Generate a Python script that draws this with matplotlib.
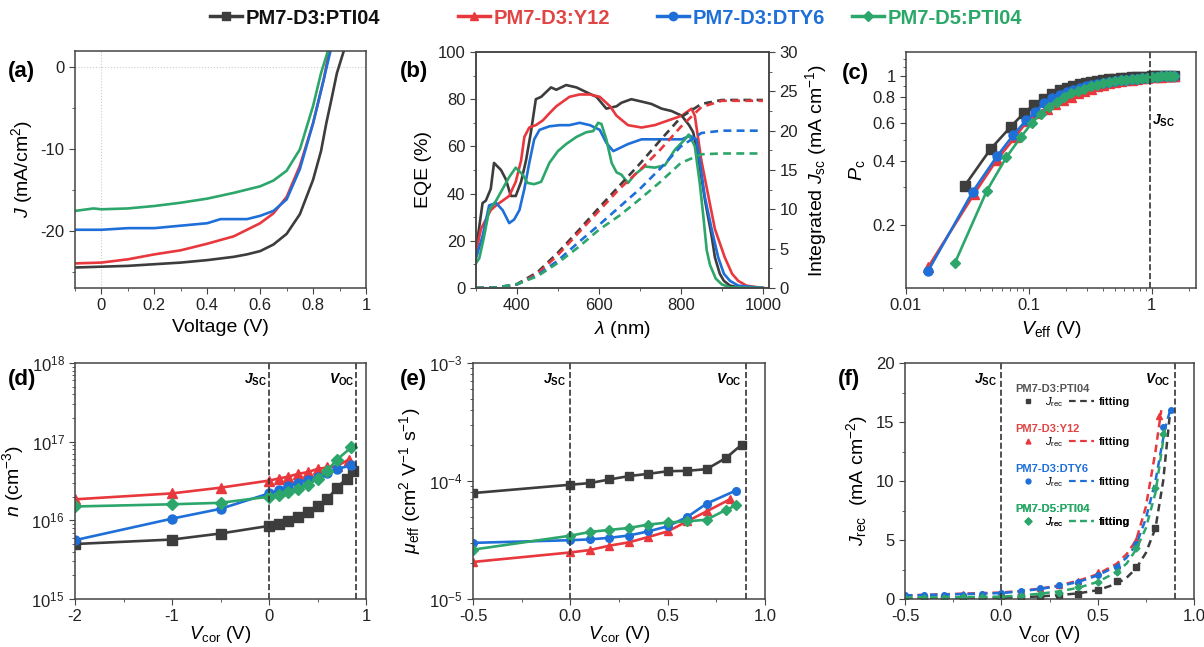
import numpy as np
import matplotlib
matplotlib.use("Agg")
import matplotlib.pyplot as plt
from matplotlib.lines import Line2D
from matplotlib.ticker import MultipleLocator, FixedLocator, NullFormatter, LogLocator, FixedFormatter

plt.rcParams.update({
    "font.family": ["Liberation Sans", "DejaVu Sans"],
    "mathtext.fontset": "custom",
    "mathtext.rm": "Liberation Sans",
    "mathtext.it": "Liberation Sans:italic",
    "mathtext.bf": "Liberation Sans:bold",
    "mathtext.bfit": "Liberation Sans:italic:bold",
    "axes.unicode_minus": False,
    "font.size": 12,
    "axes.linewidth": 1.1,
    "axes.edgecolor": "#444444",
    "xtick.direction": "out",
    "ytick.direction": "out",
    "xtick.major.size": 4,
    "ytick.major.size": 4,
    "xtick.minor.size": 2.5,
    "ytick.minor.size": 2.5,
    "xtick.color": "#444444",
    "ytick.color": "#444444",
    "xtick.labelcolor": "#222222",
    "ytick.labelcolor": "#222222",
})

names = ["PM7-D3:PTI04", "PM7-D3:Y12", "PM7-D3:DTY6", "PM7-D5:PTI04"]
colors = ["#3d3d3d", "#e8383d", "#1f6fd8", "#2ca66a"]
text_colors = ["#111111", "#e04545", "#1f6fd8", "#2aa868"]
markers = ["s", "^", "o", "D"]

# (a) J-V curves
jv_v = [
    [-0.1, 0.0, 0.1, 0.2, 0.3, 0.4, 0.5, 0.55, 0.6, 0.65, 0.7, 0.75, 0.8, 0.83, 0.85, 0.87, 0.89, 0.915],
    [-0.1, 0.0, 0.1, 0.2, 0.3, 0.4, 0.5, 0.6, 0.65, 0.7, 0.75, 0.8, 0.84, 0.86],
    [-0.1, 0.0, 0.1, 0.2, 0.3, 0.4, 0.45, 0.5, 0.55, 0.6, 0.65, 0.7, 0.75, 0.8, 0.84, 0.865],
    [-0.1, -0.03, 0.0, 0.1, 0.2, 0.3, 0.4, 0.5, 0.6, 0.65, 0.7, 0.75, 0.8, 0.83, 0.855],
]
jv_j = [
    [-24.4, -24.3, -24.2, -24.0, -23.8, -23.5, -23.1, -22.8, -22.4, -21.6, -20.3, -17.9, -13.7, -10.2, -6.8, -3.8, -0.7, 1.9],
    [-23.9, -23.8, -23.4, -22.8, -22.3, -21.5, -20.6, -19.0, -17.8, -15.8, -12.0, -6.8, -1.5, 1.9],
    [-19.8, -19.8, -19.6, -19.6, -19.3, -19.0, -18.5, -18.5, -18.5, -18.1, -17.5, -16.1, -12.4, -6.8, -1.5, 1.9],
    [-17.5, -17.2, -17.3, -17.2, -16.9, -16.5, -16.0, -15.3, -14.5, -13.8, -12.6, -10.0, -4.7, -0.7, 1.9],
]

# (b) EQE spectra
eqe_nm = [
    [300, 308, 316, 324, 336, 344, 361, 373, 385, 397, 410, 422, 434, 446, 459, 471, 483, 496, 520, 545, 569, 594,
     618, 643, 655, 679, 704, 728, 753, 777, 802, 820, 830, 842, 859, 875, 883, 895, 905, 920, 940, 1000],
    [300, 312, 324, 336, 349, 365, 381, 397, 410, 418, 430, 446, 463, 479, 496, 512, 528, 553, 578, 602, 627, 643,
     671, 704, 736, 769, 802, 826, 834, 850, 867, 883, 907, 925, 940, 960, 1000],
    [300, 316, 332, 349, 365, 381, 393, 406, 418, 430, 442, 455, 479, 504, 528, 553, 578, 602, 618, 635, 671, 704,
     736, 769, 802, 822, 838, 846, 858, 875, 891, 905, 920, 940, 1000],
    [300, 308, 320, 332, 349, 365, 381, 397, 414, 426, 442, 459, 479, 500, 520, 545, 569, 586, 598, 606, 618, 631,
     643, 655, 671, 687, 712, 736, 761, 785, 810, 819, 830, 834, 846, 855, 863, 871, 885, 900, 920, 1000],
]
eqe_val = [
    [16, 26, 36, 37, 42, 53, 50, 46, 39, 39, 45, 54, 66, 80, 81, 83, 85, 84, 86, 85, 83, 81,
     76, 77, 78.5, 80, 79, 78, 76, 75, 73, 69, 66, 56, 37, 22, 13, 6, 3, 1, 0.3, 0],
    [15, 25, 29, 33, 35, 37, 39, 45, 54, 64, 68, 69, 71, 74, 77, 79, 81, 82, 82, 81, 77, 73,
     69, 68, 69, 71, 73, 76, 73, 54, 39, 25, 13, 6, 3, 1, 0],
    [12.6, 22, 35, 36, 33, 27.5, 29, 33, 42, 53, 63, 67, 68.5, 69, 69, 70, 69, 67, 61.5, 58, 61, 63,
     63, 63, 63, 64.5, 63, 54, 39, 25, 13, 6, 3, 1, 0],
    [10.5, 12.6, 22, 33, 37, 42, 47, 51, 48, 44.5, 44, 45, 53, 58, 61, 64, 66, 66.5, 70, 69.5, 63, 53,
     49, 48, 44.5, 48, 51.5, 51, 52, 58.5, 63, 65, 61.5, 60, 44.5, 30, 16, 9.8, 4, 1.5, 0.3, 0],
]

# (b) integrated Jsc
jint_nm = [300, 350, 400, 450, 500, 550, 600, 650, 700, 750, 800, 850, 900, 950, 1000]
jint_val = [
    [0, 0.05, 0.5, 2.0, 4.5, 7.3, 10.2, 13.0, 15.8, 18.8, 21.7, 23.4, 23.9, 23.9, 23.9],
    [0, 0.05, 0.45, 1.8, 4.2, 7.0, 9.8, 12.6, 15.0, 17.6, 20.5, 23.0, 23.8, 23.8, 23.8],
    [0, 0.05, 0.45, 1.6, 3.5, 5.8, 8.0, 10.3, 12.6, 15.2, 18.0, 19.7, 20.0, 20.0, 20.0],
    [0, 0.05, 0.5, 1.5, 3.2, 5.2, 7.4, 9.2, 11.3, 13.5, 15.9, 17.0, 17.1, 17.1, 17.1],
]

# (c) Pc vs Veff
pc_v = [
    [0.030, 0.049, 0.071, 0.091, 0.111, 0.132, 0.155, 0.181, 0.205, 0.23, 0.26, 0.29, 0.32, 0.36, 0.40, 0.45,
     0.50, 0.56, 0.62, 0.69, 0.76, 0.84, 0.92, 1.01, 1.10, 1.20, 1.31, 1.42, 1.52],
    [0.0152, 0.0359, 0.055, 0.0776, 0.0966, 0.117, 0.14, 0.165, 0.19, 0.22, 0.25, 0.28, 0.32, 0.36, 0.40, 0.45,
     0.50, 0.56, 0.62, 0.69, 0.76, 0.84, 0.92, 1.01, 1.10, 1.20, 1.31, 1.42, 1.52],
    [0.0152, 0.035, 0.055, 0.075, 0.095, 0.113, 0.134, 0.155, 0.18, 0.205, 0.23, 0.26, 0.29, 0.32, 0.36, 0.40,
     0.45, 0.50, 0.56, 0.62, 0.69, 0.76, 0.84, 0.92, 1.01, 1.10, 1.20, 1.31, 1.42, 1.52],
    [0.0251, 0.0456, 0.0655, 0.0863, 0.106, 0.125, 0.146, 0.17, 0.195, 0.22, 0.25, 0.28, 0.32, 0.36, 0.40, 0.45,
     0.50, 0.56, 0.62, 0.69, 0.76, 0.84, 0.92, 1.01, 1.10, 1.20, 1.31, 1.42, 1.52],
]
pc_p = [
    [0.305, 0.456, 0.577, 0.671, 0.734, 0.782, 0.826, 0.865, 0.885, 0.90, 0.915, 0.93, 0.94, 0.95, 0.96, 0.97,
     0.975, 0.98, 0.985, 0.99, 0.99, 0.995, 0.995, 1.0, 1.0, 1.0, 1.0, 1.0, 1.0],
    [0.127, 0.28, 0.405, 0.518, 0.614, 0.672, 0.705, 0.74, 0.77, 0.80, 0.83, 0.855, 0.875, 0.895, 0.91, 0.925,
     0.935, 0.945, 0.955, 0.965, 0.97, 0.98, 0.985, 0.99, 0.99, 0.995, 1.0, 1.0, 1.0],
    [0.122, 0.287, 0.42, 0.53, 0.62, 0.68, 0.75, 0.79, 0.82, 0.845, 0.865, 0.88, 0.895, 0.91, 0.92, 0.93,
     0.94, 0.95, 0.96, 0.965, 0.97, 0.975, 0.98, 0.985, 0.99, 0.995, 1.0, 1.0, 1.0, 1.0],
    [0.133, 0.29, 0.415, 0.518, 0.603, 0.665, 0.715, 0.76, 0.795, 0.83, 0.855, 0.875, 0.895, 0.91, 0.925, 0.94,
     0.95, 0.96, 0.965, 0.97, 0.975, 0.98, 0.985, 0.99, 0.995, 1.0, 1.0, 1.0, 1.0],
]

# (d) carrier density vs Vcor
n_v = [
    [-2, -1, -0.5, 0, 0.1, 0.2, 0.3, 0.4, 0.5, 0.6, 0.7, 0.8, 0.87],
    [-2, -1, -0.5, 0, 0.1, 0.2, 0.3, 0.4, 0.5, 0.6, 0.7, 0.82],
    [-2, -1, -0.5, 0, 0.1, 0.2, 0.3, 0.4, 0.5, 0.6, 0.7, 0.85],
    [-2, -1, -0.5, 0, 0.1, 0.2, 0.3, 0.4, 0.5, 0.6, 0.7, 0.85],
]
n_val = [
    [5.0e15, 5.7e15, 6.8e15, 8.5e15, 9.1e15, 9.8e15, 1.1e16, 1.26e16, 1.5e16, 1.85e16, 2.6e16, 3.4e16, 4.2e16],
    [1.85e16, 2.2e16, 2.6e16, 3.2e16, 3.4e16, 3.6e16, 3.9e16, 4.1e16, 4.5e16, 4.7e16, 4.9e16, 5.9e16],
    [5.6e15, 1.05e16, 1.4e16, 2.2e16, 2.4e16, 2.75e16, 3.0e16, 3.3e16, 3.6e16, 4.0e16, 4.5e16, 5.0e16],
    [1.5e16, 1.6e16, 1.67e16, 2.0e16, 2.1e16, 2.3e16, 2.5e16, 2.8e16, 3.4e16, 4.3e16, 5.9e16, 8.5e16],
]

# (e) effective mobility vs Vcor
mu_v = [
    [-0.5, 0, 0.1, 0.2, 0.3, 0.4, 0.5, 0.6, 0.7, 0.8, 0.88],
    [-0.5, 0, 0.1, 0.2, 0.3, 0.4, 0.5, 0.6, 0.7, 0.82],
    [-0.5, 0, 0.1, 0.2, 0.3, 0.4, 0.5, 0.6, 0.7, 0.85],
    [-0.5, 0, 0.1, 0.2, 0.3, 0.4, 0.5, 0.6, 0.7, 0.8, 0.85],
]
mu_val = [
    [7.9e-5, 9.3e-5, 9.6e-5, 1.03e-4, 1.1e-4, 1.15e-4, 1.21e-4, 1.22e-4, 1.26e-4, 1.57e-4, 2.03e-4],
    [2.06e-5, 2.48e-5, 2.6e-5, 2.83e-5, 3.02e-5, 3.35e-5, 3.74e-5, 4.55e-5, 5.53e-5, 7.0e-5],
    [2.99e-5, 3.15e-5, 3.2e-5, 3.3e-5, 3.45e-5, 3.74e-5, 4.13e-5, 4.95e-5, 6.43e-5, 8.3e-5],
    [2.62e-5, 3.44e-5, 3.7e-5, 3.85e-5, 4.0e-5, 4.27e-5, 4.45e-5, 4.55e-5, 4.7e-5, 5.7e-5, 6.2e-5],
]

# (f) recombination current, measured points and fits
rec_v = [
    [-0.5, -0.4, -0.3, -0.2, -0.1, 0, 0.1, 0.2, 0.3, 0.4, 0.5, 0.6, 0.7, 0.8],
    [-0.5, -0.4, -0.3, -0.2, -0.1, 0, 0.1, 0.2, 0.3, 0.4, 0.5, 0.6, 0.7, 0.82],
    [-0.5, -0.4, -0.3, -0.2, -0.1, 0, 0.1, 0.2, 0.3, 0.4, 0.5, 0.6, 0.7, 0.84, 0.88],
    [-0.5, -0.4, -0.3, -0.2, -0.1, 0, 0.1, 0.2, 0.3, 0.4, 0.5, 0.6, 0.7, 0.8, 0.84],
]
rec_j = [
    [0.05, 0.06, 0.07, 0.08, 0.1, 0.12, 0.15, 0.2, 0.3, 0.4, 0.76, 1.5, 2.7, 6.0],
    [0.3, 0.32, 0.35, 0.4, 0.45, 0.55, 0.65, 0.9, 1.15, 1.5, 2.3, 2.9, 5.0, 15.5],
    [0.3, 0.32, 0.35, 0.38, 0.42, 0.5, 0.7, 0.9, 1.15, 1.45, 2.05, 2.75, 4.7, 14.6, 16.0],
    [0.1, 0.11, 0.12, 0.13, 0.14, 0.15, 0.25, 0.4, 0.55, 1.0, 1.45, 2.3, 4.3, 9.4, 14.0],
]
fit_v = [
    [-0.5, 0, 0.1, 0.2, 0.3, 0.4, 0.5, 0.6, 0.65, 0.7, 0.75, 0.8, 0.84, 0.875],
    [-0.5, 0, 0.1, 0.2, 0.3, 0.4, 0.5, 0.6, 0.65, 0.7, 0.75, 0.8, 0.83],
    [-0.5, 0, 0.1, 0.2, 0.3, 0.4, 0.5, 0.6, 0.65, 0.7, 0.75, 0.8, 0.85, 0.88],
    [-0.5, 0, 0.1, 0.2, 0.3, 0.4, 0.5, 0.6, 0.65, 0.7, 0.75, 0.8, 0.85],
]
fit_j = [
    [0.05, 0.1, 0.15, 0.22, 0.33, 0.48, 0.75, 1.3, 1.8, 2.6, 3.9, 6.0, 10.0, 15.7],
    [0.3, 0.55, 0.68, 0.88, 1.15, 1.55, 2.1, 3.0, 3.8, 5.0, 7.8, 12.5, 16.0],
    [0.3, 0.5, 0.65, 0.85, 1.1, 1.45, 2.0, 2.8, 3.5, 4.6, 6.8, 10.0, 14.5, 16.2],
    [0.12, 0.2, 0.3, 0.45, 0.65, 0.95, 1.45, 2.3, 3.0, 4.2, 6.0, 9.0, 14.5],
]

W, H = 1204, 647
fig = plt.figure(figsize=(W / 100, H / 100), dpi=100)


def rect(l, t, r, b):
    return [l / W, 1 - b / H, (r - l) / W, (b - t) / H]


ax_a = fig.add_axes(rect(75, 51, 366, 288))
ax_b = fig.add_axes(rect(476, 52, 769, 288))
ax_c = fig.add_axes(rect(906, 52, 1196, 288))
ax_d = fig.add_axes(rect(75, 363, 366, 599))
ax_e = fig.add_axes(rect(473, 363, 765, 599))
ax_f = fig.add_axes(rect(905, 363, 1194, 599))

lab_fs = 14
tick_fs = 12
lw = 1.9

# (a)
ax_a.axhline(0, color="#cccccc", ls=":", lw=0.8)
ax_a.axvline(0, color="#cccccc", ls=":", lw=0.8)
for i in range(4):
    ax_a.plot(jv_v[i], jv_j[i], color=colors[i], lw=lw)
ax_a.set_xlim(-0.1, 1.0)
ax_a.set_ylim(-26.9, 2.0)
ax_a.set_xticks([0, 0.2, 0.4, 0.6, 0.8, 1.0])
ax_a.set_xticklabels(["0", "0.2", "0.4", "0.6", "0.8", "1"])
ax_a.xaxis.set_minor_locator(MultipleLocator(0.1))
ax_a.set_yticks([-20, -10, 0])
ax_a.yaxis.set_minor_locator(MultipleLocator(5))
ax_a.set_xlabel("Voltage (V)", fontsize=lab_fs)
ax_a.set_ylabel("$J$ (mA/cm$^2$)", fontsize=lab_fs)

# (b)
for i in range(4):
    ax_b.plot(eqe_nm[i], eqe_val[i], color=colors[i], lw=lw)
ax_b.set_xlim(300, 1015)
ax_b.set_ylim(0, 100)
ax_b.set_xticks([400, 600, 800, 1000])
ax_b.xaxis.set_minor_locator(MultipleLocator(100))
ax_b.set_yticks([0, 20, 40, 60, 80, 100])
ax_b.yaxis.set_minor_locator(MultipleLocator(10))
ax_b.set_xlabel(r"$\lambda$ (nm)", fontsize=lab_fs)
ax_b.set_ylabel("EQE (%)", fontsize=lab_fs)
ax_b2 = ax_b.twinx()
for i in range(4):
    ax_b2.plot(jint_nm, jint_val[i], color=colors[i], lw=lw, ls=(0, (3, 2)))
ax_b2.set_ylim(0, 30)
ax_b2.set_yticks([0, 5, 10, 15, 20, 25, 30])
ax_b2.yaxis.set_minor_locator(MultipleLocator(2.5))
ax_b2.set_ylabel(r"Integrated $J_{\rm sc}$ (mA cm$^{-1}$)", fontsize=lab_fs)

# (c)
for i in range(4):
    ax_c.plot(pc_v[i], pc_p[i], color=colors[i], lw=lw, marker=markers[i],
              ms=6.5 if markers[i] != "D" else 5.5, mec=colors[i])
ax_c.set_xscale("log")
ax_c.set_yscale("log")
ax_c.set_xlim(0.01, 2.3)
ax_c.set_ylim(0.101, 1.3)
ax_c.set_xticks([0.01, 0.1, 1])
ax_c.set_xticklabels(["0.01", "0.1", "1"])
ax_c.xaxis.set_minor_locator(LogLocator(subs=np.arange(2, 10)))
ax_c.xaxis.set_minor_formatter(NullFormatter())
ax_c.yaxis.set_major_locator(FixedLocator([0.2, 0.4, 0.6, 0.8, 1.0]))
ax_c.yaxis.set_major_formatter(FixedFormatter(["0.2", "0.4", "0.6", "0.8", "1"]))
ax_c.yaxis.set_minor_locator(FixedLocator([0.3, 0.5, 0.7, 0.9, 1.1, 1.2]))
ax_c.yaxis.set_minor_formatter(NullFormatter())
ax_c.axvline(0.97, color="#333333", ls="--", lw=1.2)
ax_c.text(1.0, 0.62, r"$\mathbfit{J}_{\mathbf{SC}}$", fontsize=10, ha="left", va="center")
ax_c.set_xlabel(r"$V_{\rm eff}$ (V)", fontsize=lab_fs)
ax_c.set_ylabel(r"$P_{\rm c}$", fontsize=lab_fs)

# (d)
for i in range(4):
    ax_d.plot(n_v[i], n_val[i], color=colors[i], lw=lw, marker=markers[i],
              ms=6.5 if markers[i] != "D" else 6, mec=colors[i])
ax_d.set_yscale("log")
ax_d.set_xlim(-2, 1)
ax_d.set_ylim(1e15, 1e18)
ax_d.set_xticks([-2, -1, 0, 1])
ax_d.xaxis.set_minor_locator(MultipleLocator(0.5))
ax_d.set_ylabel(r"$n$ (cm$^{-3}$)", fontsize=lab_fs)

# (e)
for i in range(4):
    ax_e.plot(mu_v[i], mu_val[i], color=colors[i], lw=lw, marker=markers[i],
              ms=5.5 if markers[i] != "D" else 5, mec=colors[i])
ax_e.set_yscale("log")
ax_e.set_xlim(-0.5, 1.0)
ax_e.set_ylim(1e-5, 1e-3)
ax_e.set_xticks([-0.5, 0.0, 0.5, 1.0])
ax_e.set_xticklabels(["-0.5", "0.0", "0.5", "1.0"])
ax_e.xaxis.set_minor_locator(MultipleLocator(0.25))
ax_e.set_ylabel(r"$\mu_{\rm eff}$ (cm$^2$ V$^{-1}$ s$^{-1}$)", fontsize=lab_fs)

# (f)
for i in range(4):
    ax_f.plot(rec_v[i], rec_j[i], ls="none", marker=markers[i], color=colors[i],
              ms=4 if markers[i] != "D" else 3.5)
    ax_f.plot(fit_v[i], fit_j[i], color=colors[i], lw=1.8, ls=(0, (3, 2)))
ax_f.set_xlim(-0.5, 1.0)
ax_f.set_ylim(0, 20)
ax_f.set_xticks([-0.5, 0.0, 0.5, 1.0])
ax_f.set_xticklabels(["-0.5", "0.0", "0.5", "1.0"])
ax_f.xaxis.set_minor_locator(MultipleLocator(0.25))
ax_f.set_yticks([0, 5, 10, 15, 20])
ax_f.yaxis.set_minor_locator(MultipleLocator(2.5))
ax_f.set_ylabel(r"$J_{\rm rec}$  (mA cm$^{-2}$)", fontsize=lab_fs)

# bottom-row x labels sit right at the figure edge
ax_d.set_xlabel(r"$V_{\rm cor}$ (V)", fontsize=13.5, labelpad=0)
ax_e.set_xlabel(r"$V_{\rm cor}$ (V)", fontsize=13.5, labelpad=0)
ax_f.set_xlabel(r"V$_{\rm cor}$ (V)", fontsize=13.5, labelpad=0)

title_colors = ["#555555", "#e04545", "#1f6fd8", "#2aa868"]
for i in range(4):
    h1 = Line2D([], [], ls="none", marker=markers[i], color=colors[i], ms=3.5)
    h2 = Line2D([], [], color=colors[i], lw=1.6, ls=(0, (3, 2)))
    leg = ax_f.legend([h1, h2], [r"$J_{\rm rec}$", "fitting"], ncol=2, loc="upper left",
                      bbox_to_anchor=(0.36, 0.94 - i * 0.17), frameon=False, fontsize=8,
                      title=names[i], title_fontsize=8, handlelength=2.2, handletextpad=0.4,
                      columnspacing=0.6, borderpad=0.1, labelspacing=0.1)
    leg.get_title().set_color(title_colors[i])
    leg.get_title().set_fontweight("bold")
    leg._legend_box.align = "left"
    for t in leg.get_texts():
        t.set_fontweight("bold")
    ax_f.add_artist(leg)

# guide lines for Jsc / Voc
for ax, voc in [(ax_d, 0.9), (ax_e, 0.9), (ax_f, 0.9)]:
    ax.axvline(0, color="#333333", ls="--", lw=1.2)
    ax.axvline(voc, color="#333333", ls="--", lw=1.2)
    ax.text(-0.02, 0.965, r"$\mathbfit{J}_{\mathbf{SC}}$", transform=ax.get_xaxis_transform(),
            fontsize=10, ha="right", va="top")
    ax.text(voc - 0.02, 0.965, r"$\mathbfit{V}_{\mathbf{OC}}$", transform=ax.get_xaxis_transform(),
            fontsize=10, ha="right", va="top")

for ax in [ax_a, ax_b, ax_b2, ax_c, ax_d, ax_e, ax_f]:
    ax.tick_params(labelsize=tick_fs, which="both")

# panel letters
for letter, x, y in [("(a)", 8, 72), ("(b)", 400, 72), ("(c)", 842, 74),
                     ("(d)", 8, 380), ("(e)", 400, 380), ("(f)", 838, 380)]:
    fig.text(x / W, 1 - y / H, letter, fontsize=16, fontweight="bold", va="center", ha="left")

# shared legend on top, one entry per series at fixed positions
for i, x in enumerate([210, 458, 657, 852]):
    h = Line2D([], [], color=colors[i], lw=2.5, marker=markers[i], ms=6 if i < 3 else 5.5)
    leg = fig.legend([h], [names[i]], loc="center left", bbox_to_anchor=(x / W, 1 - 18 / H),
                     frameon=False, handlelength=1.6, handletextpad=0.15, borderpad=0,
                     borderaxespad=0, prop={"weight": "bold", "size": 14.5})
    leg.get_texts()[0].set_color(text_colors[i])

fig.savefig("out.png", dpi=100)
